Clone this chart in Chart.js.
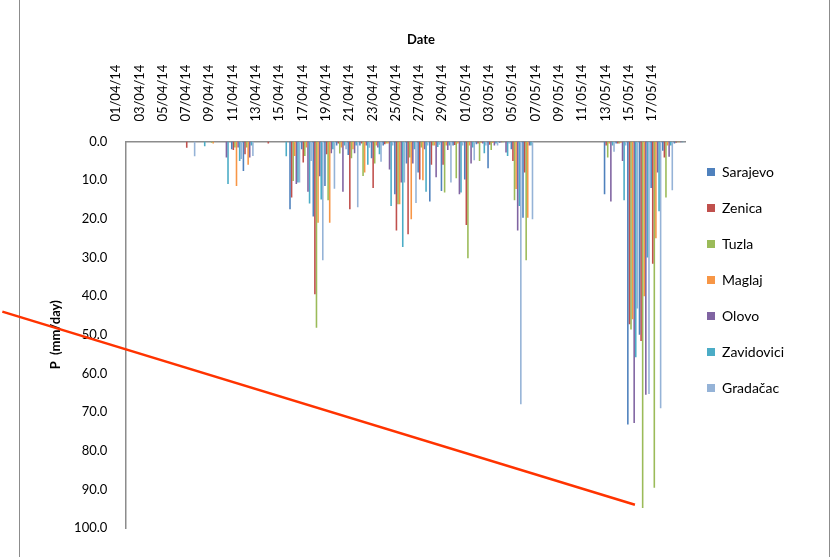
<!DOCTYPE html>
<html>
<head>
<meta charset="utf-8">
<script src="https://cdn.jsdelivr.net/npm/chart.js@4.4.0/dist/chart.umd.min.js"></script>
<style>
html, body { margin: 0; padding: 0; background: #fff; }
#wrap { position: relative; width: 833px; height: 557px; overflow: hidden; }
#frame { position: absolute; left: 19px; top: -4px; width: 809px; height: 570px; border-left: 1px solid #8c8c8c; border-right: 1px solid #8c8c8c; }
canvas { position: absolute; left: 0; top: 0; }
</style>
</head>
<body>
<div id="wrap">
<div id="frame"></div>
<canvas id="chart" width="833" height="557"></canvas>
</div>
<script>
// daily precipitation, mm/day, 01/04/14 .. 18/05/14
var dates = ['01/04/14','02/04/14','03/04/14','04/04/14','05/04/14','06/04/14','07/04/14','08/04/14',
  '09/04/14','10/04/14','11/04/14','12/04/14','13/04/14','14/04/14','15/04/14','16/04/14',
  '17/04/14','18/04/14','19/04/14','20/04/14','21/04/14','22/04/14','23/04/14','24/04/14',
  '25/04/14','26/04/14','27/04/14','28/04/14','29/04/14','30/04/14','01/05/14','02/05/14',
  '03/05/14','04/05/14','05/05/14','06/05/14','07/05/14','08/05/14','09/05/14','10/05/14',
  '11/05/14','12/05/14','13/05/14','14/05/14','15/05/14','16/05/14','17/05/14','18/05/14'];

var sarajevo   = [0,0,0,0,0,0,0,0, 0,2,7.6,0,0,0,17.5,2, 19.4,11.5,1,3.5,1,4.3,1,13.6, 5.7,8,15.5,12.8,1,9.8,0.7,6.9, 0.3,2,19.7,0,0,0,0,0, 0,13.6,0.5,73.2,50,12,2.4,0.5];
var zenica     = [0,0,0,0,0,1.6,0,0, 0,2.2,3.3,0,0.5,0,14.5,5.4, 39.5,3.3,0.5,17.5,0.5,12,0.7,23, 24,9.8,6,6,0.9,21.6,0.5,0.8, 0.2,5,8,0,0,0,0,0, 0,1,0.5,47.3,51.6,31.6,4.1,0.3];
var tuzla      = [0,0,0,0,0,0,0,0.3, 0,1.5,1.5,0,0,0,10.2,3.7, 48.2,15.2,3.1,4.3,8.9,5.7,0.5,16.2, 4.1,1.5,1,13.2,9.5,30.2,5,2.2, 0.2,15.2,30.7,0,0,0,0,0, 0,4.1,0.5,48.6,94.8,89.6,14.5,0.2];
var maglaj     = [0,0,0,0,0,0,0,0.5, 0,11.5,6,0,0,0,3.7,1.5, 21,21,1.5,2,8,1,0.5,16.2, 20.1,10,1,1,0.5,1,0.3,0.3, 0,12.3,19.7,0,0,0,0,0, 0,0.5,0.3,46,40,25,1,0.2];
var olovo      = [0,0,0,0,0,0,0,0, 4.1,1.5,4.1,0,0,0,11,13, 9,3,13,3,1,1.5,7.2,10.6, 5.7,2,9.2,2.2,13.6,5.7,0.5,1, 2.8,23,1,0,0,0,0,0, 0,15.5,5,72.8,65.5,8,3.9,0.2];
var zavidovici = [0,0,0,0,0,0,1.2,0, 11,5,1,0,0,3.8,10.6,16, 15,2,1,1,6,3.3,16.7,27.3, 2,13,1.4,1,13.2,1.5,3,0.5, 3.7,16.7,1,0,0,0,0,0, 0,1,15.2,55.8,30,18,1,0.2];
var gradacac   = [0,0,0,0,0,3.8,0,0, 0,4.5,3.7,0,0,0,10.6,5, 30.7,12.2,2,17,1.6,5.2,1,10.6, 15.9,1,0.8,10.6,1,4.8,1,1, 0.5,68,20.1,0,0,0,0,0, 0,2.6,1,43.2,65.3,69,12.6,0.2];

var seriesNames  = ['Sarajevo','Zenica','Tuzla','Maglaj','Olovo','Zavidovici','Gradačac'];
var seriesValues = [sarajevo, zenica, tuzla, maglaj, olovo, zavidovici, gradacac];
var seriesColors = ['#4F81BD','#C0504D','#9BBB59','#F79646','#8064A2','#4BACC6','#95B3D7'];

// the red stroke drawn over the chart, in (day index, mm/day)
var markX = [-11.1, 43.2];
var markY = [44, 94];

var yTicks = [0,10,20,30,40,50,60,70,80,90,100];

var font = 'Lato, "Liberation Sans", sans-serif';

var datasets = seriesNames.map(function (name, i) {
  return {
    label: name,
    data: seriesValues[i],
    backgroundColor: seriesColors[i],
    borderWidth: 0,
    categoryPercentage: 0.95,
    barPercentage: 1.0
  };
});

// red stroke, placed through the x / y scales
var markLine = {
  id: 'markLine',
  afterDatasetsDraw: function (chart) {
    var x = chart.scales.x, y = chart.scales.y, c = chart.ctx;
    c.save();
    c.strokeStyle = '#FF3300';
    c.lineWidth = 2.5;
    c.beginPath();
    c.moveTo(x.getPixelForValue(markX[0]), y.getPixelForValue(markY[0]));
    c.lineTo(x.getPixelForValue(markX[1]), y.getPixelForValue(markY[1]));
    c.stroke();
    c.restore();
  }
};

var ctx = document.getElementById('chart').getContext('2d');
new Chart(ctx, {
  type: 'bar',
  data: { labels: dates, datasets: datasets },
  plugins: [markLine],
  options: {
    responsive: false,
    animation: false,
    layout: { padding: { left: 48, right: 39, top: 32, bottom: 29 } },
    plugins: {
      title: {
        display: true, text: 'Date', color: '#000',
        font: { family: font, size: 13, weight: 'bold' },
        padding: { top: 0, bottom: 5 }
      },
      legend: {
        position: 'right',
        labels: {
          color: '#000', boxWidth: 8, boxHeight: 8, padding: 22,
          font: { family: font, size: 14 }
        }
      },
      tooltip: { enabled: false }
    },
    scales: {
      x: {
        position: 'top',
        grid: { display: false },
        border: { display: true, color: '#8c8c8c', width: 1.5 },
        ticks: {
          autoSkip: false, maxRotation: 90, minRotation: 90, padding: 12,
          color: '#000', font: { family: font, size: 13 },
          callback: function (v, i) { return i % 2 === 0 ? dates[i] : ''; }
        }
      },
      y: {
        reverse: true, min: 0, max: 100,
        grid: { display: false },
        border: { display: true, color: '#8c8c8c', width: 1.5 },
        afterBuildTicks: function (axis) { axis.ticks = yTicks.map(function (v) { return {value: v}; }); },
        ticks: {
          color: '#000', padding: 10.5, font: { family: font, size: 13 },
          callback: function (v) { return v.toFixed(1); }
        },
        title: {
          display: true, text: 'P  (mm/day)', color: '#000',
          font: { family: font, size: 13, weight: 'bold' },
          padding: { top: 0, bottom: 0 }
        }
      }
    }
  }
});
</script>
</body>
</html>
